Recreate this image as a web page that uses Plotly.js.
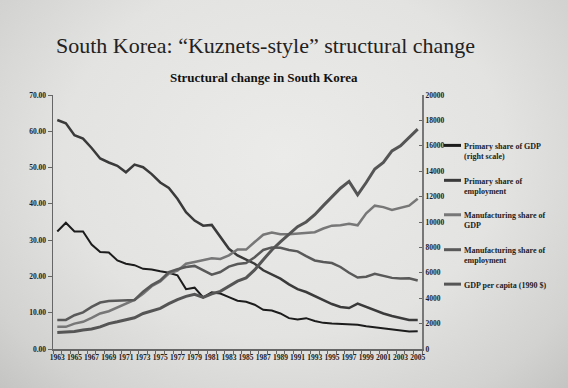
<!DOCTYPE html>
<html>
<head>
<meta charset="utf-8">
<script src="https://cdn.plot.ly/plotly-3.0.1.min.js"></script>
<style>
html, body { margin:0; padding:0; width:568px; height:388px; overflow:hidden; }
body { background: radial-gradient(ellipse at 50% 40%, #ebebea 0%, #e3e3e2 55%, #d2d2d1 85%, #c4c4c3 100%); }
#chart { width:568px; height:388px; }
</style>
</head>
<body>
<div id="chart"></div>
<script>
var years = [1963,1964,1965,1966,1967,1968,1969,1970,1971,1972,1973,1974,1975,1976,1977,1978,1979,1980,1981,1982,1983,1984,1985,1986,1987,1988,1989,1990,1991,1992,1993,1994,1995,1996,1997,1998,1999,2000,2001,2002,2003,2004,2005];
var xTickYears = [1963,1965,1967,1969,1971,1973,1975,1977,1979,1981,1983,1985,1987,1989,1991,1993,1995,1997,1999,2001,2003,2005];

var primaryGDP = [32.4,34.8,32.4,32.4,28.8,26.7,26.6,24.4,23.5,23.1,22.1,21.9,21.4,21.0,20.3,16.5,16.9,14.2,15.6,15.3,14.3,13.3,13.0,12.2,10.8,10.6,9.8,8.5,8.1,8.5,7.7,7.2,7.0,6.9,6.8,6.7,6.3,6.0,5.9,5.6,5.2,4.8,4.9];
var primaryEmp = [63.1,62.2,58.9,58.0,55.4,52.5,51.4,50.5,48.7,50.8,50.1,48.2,45.9,44.4,41.4,37.7,35.4,34.0,34.2,30.8,27.6,25.8,24.6,23.5,21.7,20.5,19.4,17.8,16.5,15.7,14.6,13.4,12.4,11.6,11.3,12.5,11.6,10.5,9.8,9.1,8.6,8.0,8.0];
var manufGDP = [6.1,6.1,7.0,7.5,8.6,9.8,10.4,11.4,12.4,13.5,15.2,17.3,18.6,20.8,21.6,23.5,24.0,24.4,25.0,24.8,25.8,27.4,27.4,29.5,31.5,32.1,31.6,31.6,31.8,31.9,32.2,33.2,34.0,34.1,34.5,34.1,37.4,39.5,39.1,38.3,38.8,39.5,41.4];
var manufEmp = [8.0,8.0,9.3,10.1,11.6,12.8,13.2,13.3,13.3,13.5,15.8,17.6,18.9,21.2,22.0,22.6,22.9,21.6,20.5,21.2,22.7,23.4,23.7,25.3,27.3,28.0,27.9,27.3,26.9,25.6,24.4,24.0,23.7,22.6,21.0,19.7,19.9,20.7,20.2,19.6,19.4,19.5,18.9];
var gdpPerCapita = [1290,1340,1370,1490,1570,1740,2000,2140,2310,2460,2800,3000,3200,3570,3890,4140,4310,4060,4340,4540,4940,5340,5600,6230,7030,7800,8430,9060,9630,10000,10570,11290,12000,12660,13200,12140,13110,14170,14690,15600,16000,16660,17310];

var seriesNames = ["Primary share of GDP<br>(right scale)", "Primary share of<br>employment", "Manufacturing share of<br>GDP", "Manufacturing share of<br>employment", "GDP per capita (1990 $)"];
var seriesColors = ["#1c1c1c", "#3a3a3a", "#777777", "#595959", "#555555"];
var seriesWidths = [2, 2.5, 2.5, 2.5, 3];

var font = "Liberation Serif";

var traces = [
  {x: years, y: primaryGDP, yaxis: 'y'},
  {x: years, y: primaryEmp, yaxis: 'y'},
  {x: years, y: manufGDP, yaxis: 'y'},
  {x: years, y: manufEmp, yaxis: 'y'},
  {x: years, y: gdpPerCapita, yaxis: 'y2'}
].map(function(t, i){
  t.type = 'scatter'; t.mode = 'lines'; t.name = seriesNames[i];
  t.line = {color: seriesColors[i], width: seriesWidths[i]};
  t.showlegend = false; t.hoverinfo = 'skip';
  return t;
});

var L = 53, R = 422, T = 94.5, B = 349;
function px2x(px){ return (px - L) / (R - L); }
function py2y(py){ return (B - py) / (B - T); }
var legendY = [145, 180, 214.5, 249.5, 284];
var shapes = [], annotations = [];
legendY.forEach(function(py, i){
  shapes.push({type:'line', xref:'paper', yref:'paper', x0:px2x(444), x1:px2x(461), y0:py2y(py), y1:py2y(py),
    line:{color: seriesColors[i], width: 3}});
  annotations.push({xref:'paper', yref:'paper', x:px2x(461.5), y:py2y(py - 5.5), xanchor:'left', yanchor:'top',
    align:'left', showarrow:false, text:'<b>' + seriesNames[i] + '</b>',
    font:{family:font, size:8, color:'#222'}});
});
annotations.push({xref:'paper', yref:'paper', x:px2x(264), y:py2y(77), xanchor:'center', yanchor:'middle',
  showarrow:false, text:'<b>Structural change in South Korea</b>', font:{family:font, size:13, color:'#111'}});
annotations.push({xref:'paper', yref:'paper', x:px2x(265), y:py2y(45), xanchor:'center', yanchor:'middle',
  showarrow:false, text:'South Korea: \u201cKuznets-style\u201d structural change', font:{family:font, size:22, color:'#222'}});

var layout = {
  width: 568, height: 388,
  paper_bgcolor: 'rgba(0,0,0,0)', plot_bgcolor: 'rgba(0,0,0,0)',
  margin: {l: L, r: 568 - R, t: T, b: 388 - B, pad: 0},
  showlegend: false,
  xaxis: {type: 'linear', range: [1962.5, 2005.5], tickvals: xTickYears, ticktext: xTickYears.map(String),
    ticks: '', showline: true, linecolor: '#666', linewidth: 1.5, showgrid: false, zeroline: false,
    tickfont: {family: font, size: 7.5, color: '#222', weight: 'bold'}, tickangle: 0,
    minor: {tick0: 1962.5, dtick: 1, ticks: 'outside', ticklen: 3, tickcolor: '#666', showgrid: false}},
  yaxis: {range: [0, 70], dtick: 10, tickformat: '.2f', ticks: 'outside', ticklen: 4, tickcolor: '#666',
    showline: true, linecolor: '#666', linewidth: 1.5, showgrid: false, zeroline: false,
    tickfont: {family: font, size: 7.5, color: '#222', weight: 'bold'}},
  yaxis2: {range: [0, 20000], dtick: 2000, tickformat: 'd', overlaying: 'y', side: 'right', ticks: 'inside',
    ticklen: 3, tickcolor: '#666', showline: true, linecolor: '#777', linewidth: 2, showgrid: false, zeroline: false,
    tickfont: {family: font, size: 7.5, color: '#222', weight: 'bold'}},
  shapes: shapes, annotations: annotations
};
Plotly.newPlot('chart', traces, layout, {staticPlot: true, displayModeBar: false});
</script>
</body>
</html>
